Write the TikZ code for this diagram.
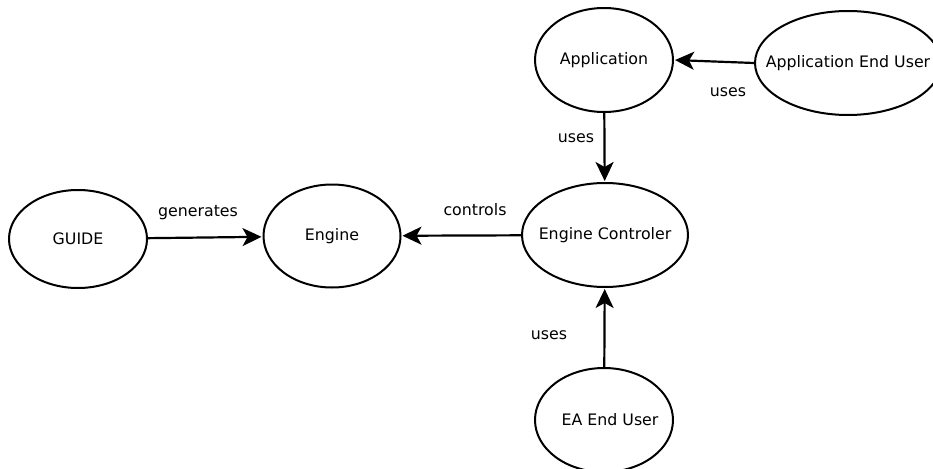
\documentclass[tikz,border=0pt]{standalone}
\usepackage{fontspec}
\setmainfont{DejaVu Sans}
\usetikzlibrary{arrows.meta,shapes.geometric}
\begin{document}
\begin{tikzpicture}[x=1pt,y=-1pt,
  ell/.style={draw, line width=2pt, ellipse, inner sep=0pt, font=\fontsize{15.8}{18}\selectfont},
  arr/.style={line width=2.2pt, -{Stealth[length=19pt,width=18pt,inset=5pt]}, shorten >=1pt},
  lbl/.style={font=\fontsize{15.8}{18}\selectfont}]
\useasboundingbox (0,0) rectangle (933,468);
\node[ell, minimum width=138pt, minimum height=98pt] (guide) at (78,239) {\makebox[0pt]{GUIDE}};
\node[ell, minimum width=137pt, minimum height=103pt] (engine) at (332,236) {\makebox[0pt]{\raisebox{-3pt}{Engine}}};
\node[ell, minimum width=166pt, minimum height=104pt] (ec) at (605,235) {\makebox[0pt]{Engine Controler}};
\node[ell, minimum width=138pt, minimum height=104pt] (app) at (604,60) {\makebox[0pt]{Application}};
\node[ell, minimum width=186pt, minimum height=104pt] (aeu) at (848,63) {\makebox[0pt]{\raisebox{-2pt}{Application End User}}};
\node[ell, minimum width=138pt, minimum height=104pt] (ea) at (604,420) {\makebox[0pt]{\hspace*{12pt}\raisebox{-3pt}{EA End User}}};
\draw[arr] (guide) -- (engine);
\draw[arr] (ec) -- (engine);
\draw[arr] (app) -- (ec);
\draw[arr] (aeu.west) -- (app.east);
\draw[arr] (ea) -- (ec);
\node[lbl] (l1) at (198,213) {generates};
\node[lbl] (l2) at (475,210) {controls};
\node[lbl] (l3) at (576,138) {uses};
\node[lbl] (l4) at (728,92) {uses};
\node[lbl] (l5) at (549,335) {uses};
\end{tikzpicture}
\end{document}
